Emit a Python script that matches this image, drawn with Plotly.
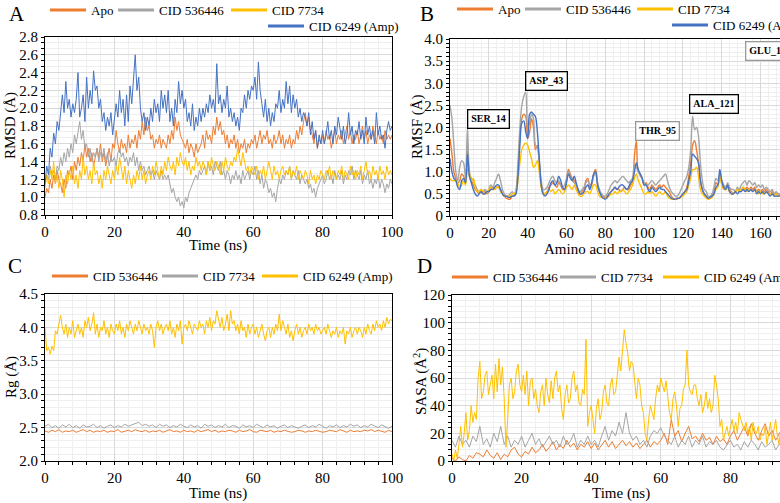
import plotly.graph_objects as go

FONT = "Times New Roman, Liberation Serif, serif"
ORANGE = "#ED7D31"
GRAY = "#A5A5A5"
YELLOW = "#FFC000"
BLUE = "#4472C4"
W, H = 780, 503

# ---------------- Panel A: RMSD (Å), sampled every 0.5 ns ----------------
rmsd_amp = [
    1.15, 1.35, 1.25, 1.55, 1.45, 1.72, 1.6, 1.85, 1.75, 1.95,
    2.15, 1.95, 2.3, 2.0, 2.1, 1.9, 2.05, 1.95, 2.1, 2.4,
    1.9, 2.0, 2.15, 1.85, 2.35, 2.0, 2.2, 2.05, 2.42, 2.2,
    2.25, 2.0, 2.1, 1.85, 1.95, 1.75, 1.9, 1.8, 1.95, 1.7,
    1.85, 2.05, 1.9, 2.2, 1.95, 2.1, 1.8, 2.15, 1.85, 2.25,
    2.05, 2.3, 2.6, 2.2, 2.35, 2.0, 1.85, 1.95, 1.75, 1.9,
    1.8, 2.0, 1.85, 2.1, 1.95, 2.05, 1.85, 2.2, 2.0, 2.15,
    1.95, 2.2, 1.85, 2.0, 1.8, 2.1, 1.95, 2.3, 2.05, 2.2,
    2.0, 2.1, 1.85, 1.95, 1.8, 2.05, 1.75, 1.9, 1.8, 2.0,
    1.85, 2.0, 1.9, 2.05, 1.95, 2.15, 2.0, 2.1, 1.95, 2.5,
    2.05, 2.15, 1.95, 2.1, 2.0, 2.25, 1.9, 2.0, 1.85, 1.95,
    1.8, 1.9, 1.75, 2.0, 1.95, 2.15, 2.0, 2.2, 2.1, 2.25,
    2.2, 2.35, 2.1, 2.52, 2.2, 2.05, 1.9, 2.1, 1.85, 2.0,
    1.8, 1.95, 1.85, 2.05, 2.0, 2.2, 1.95, 2.1, 2.0, 2.3,
    2.05, 2.25, 1.95, 2.15, 2.0, 2.1, 1.9, 2.0, 1.85, 1.95,
    1.9, 1.8, 1.95, 1.7, 1.85, 1.65, 1.75, 1.55, 1.7, 1.6,
    1.75, 1.6, 1.7, 1.85, 1.65, 1.75, 1.6, 1.8, 1.7, 1.9,
    1.75, 1.65, 1.8, 1.6, 1.7, 1.95, 1.7, 1.8, 1.6, 1.75,
    1.7, 1.85, 1.65, 1.75, 1.6, 1.9, 1.7, 1.8, 1.65, 1.75,
    1.6, 1.95, 1.7, 1.8, 1.65, 1.7, 1.55, 1.75, 1.85, 1.75,
    1.8,
]
rmsd_apo = [
    1.0, 1.1, 1.05, 1.2, 1.1, 1.25, 1.15, 1.3, 1.2, 1.15,
    1.05, 1.2, 1.1, 1.3, 1.25, 1.35, 1.2, 1.4, 1.3, 1.45,
    1.35, 1.5, 1.4, 1.6, 1.45, 1.55, 1.4, 1.5, 1.35, 1.45,
    1.55, 1.45, 1.6, 1.4, 1.5, 1.35, 1.45, 1.55, 1.4, 1.6,
    1.55, 1.75, 1.6, 1.5, 1.65, 1.55, 1.6, 1.5, 1.7, 1.55,
    1.65, 1.6, 1.7, 1.55, 1.75, 1.65, 1.85, 1.7, 1.9, 1.75,
    1.8, 1.65, 1.7, 1.55, 1.65, 1.6, 1.7, 1.55, 1.65, 1.6,
    1.55, 1.7, 1.6, 1.75, 1.65, 1.9, 1.75, 1.85, 1.7, 1.65,
    1.6, 1.55, 1.65, 1.5, 1.6, 1.55, 1.45, 1.6, 1.5, 1.55,
    1.6, 1.7, 1.55, 1.75, 1.65, 1.7, 1.6, 1.8, 1.7, 1.9,
    1.75, 1.85, 1.7, 1.75, 1.6, 1.7, 1.55, 1.65, 1.6, 1.7,
    1.55, 1.65, 1.5, 1.6, 1.55, 1.65, 1.5, 1.6, 1.55, 1.65,
    1.6, 1.7, 1.55, 1.65, 1.75, 1.6, 1.7, 1.65, 1.75, 1.6,
    1.65, 1.55, 1.7, 1.6, 1.65, 1.75, 1.6, 1.7, 1.55, 1.65,
    1.6, 1.7, 1.55, 1.65, 1.6, 1.75, 1.65, 1.8, 1.7, 1.85,
    1.95, 1.8, 1.9, 1.75, 1.7, 1.6, 1.75, 1.55, 1.65, 1.6,
    1.7, 1.6, 1.75, 1.65, 1.7, 1.55, 1.65, 1.75, 1.6, 1.7,
    1.65, 1.75, 1.6, 1.7, 1.8, 1.65, 1.75, 1.6, 1.7, 1.65,
    1.75, 1.6, 1.7, 1.8, 1.65, 1.75, 1.6, 1.7, 1.65, 1.8,
    1.7, 1.6, 1.75, 1.65, 1.7, 1.6, 1.75, 1.65, 1.7, 1.65,
    1.7,
]
rmsd_536446 = [
    1.15, 1.25, 1.2, 1.35, 1.25, 1.3, 1.2, 1.35, 1.3, 1.45,
    1.35, 1.5, 1.4, 1.55, 1.45, 1.6, 1.5, 1.7, 1.6, 1.75,
    1.85, 1.65, 1.75, 1.55, 1.6, 1.45, 1.55, 1.4, 1.5, 1.45,
    1.55, 1.4, 1.5, 1.45, 1.55, 1.4, 1.5, 1.35, 1.45, 1.4,
    1.45, 1.35, 1.5, 1.55, 1.45, 1.5, 1.4, 1.45, 1.35, 1.45,
    1.4, 1.5, 1.35, 1.45, 1.3, 1.4, 1.3, 1.35, 1.25, 1.3,
    1.35, 1.25, 1.3, 1.2, 1.3, 1.25, 1.2, 1.3, 1.2, 1.25,
    1.2, 1.25, 1.15, 1.05, 1.1, 1.0, 0.95, 1.0, 0.9, 0.95,
    0.88, 1.0, 0.95, 1.05, 1.1, 1.15, 1.2, 1.25, 1.2, 1.3,
    1.25, 1.3, 1.35, 1.25, 1.4, 1.3, 1.35, 1.25, 1.4, 1.35,
    1.3, 1.4, 1.25, 1.3, 1.2, 1.3, 1.25, 1.15, 1.25, 1.2,
    1.3, 1.2, 1.25, 1.15, 1.3, 1.2, 1.25, 1.3, 1.2, 1.3,
    1.25, 1.35, 1.2, 1.3, 1.15, 1.25, 1.1, 1.2, 1.15, 1.05,
    1.1, 1.0, 1.05, 0.95, 1.1, 1.2, 1.15, 1.25, 1.2, 1.3,
    1.25, 1.35, 1.2, 1.3, 1.25, 1.2, 1.3, 1.15, 1.25, 1.2,
    1.15, 1.2, 1.1, 1.15, 1.05, 1.1, 1.0, 1.1, 1.15, 1.2,
    1.25, 1.15, 1.2, 1.3, 1.2, 1.25, 1.15, 1.3, 1.2, 1.25,
    1.2, 1.3, 1.15, 1.25, 1.2, 1.3, 1.25, 1.35, 1.2, 1.3,
    1.25, 1.2, 1.3, 1.15, 1.25, 1.2, 1.3, 1.15, 1.2, 1.1,
    1.2, 1.15, 1.25, 1.1, 1.2, 1.15, 1.05, 1.15, 1.1, 1.2,
    1.15,
]
rmsd_7734 = [
    1.1, 1.25, 1.15, 1.3, 1.2, 1.4, 1.15, 1.25, 1.1, 1.3,
    1.2, 1.0, 1.25, 1.15, 1.3, 1.2, 1.35, 1.15, 1.25, 1.1,
    1.3, 1.2, 1.45, 1.25, 1.35, 1.2, 1.3, 1.15, 1.4, 1.25,
    1.3, 1.15, 1.25, 1.1, 1.3, 1.2, 1.35, 1.25, 1.15, 1.3,
    1.2, 1.35, 1.25, 1.45, 1.3, 1.2, 1.35, 1.15, 1.3, 1.2,
    1.1, 1.25, 1.15, 1.3, 1.2, 1.35, 1.2, 1.3, 1.15, 1.25,
    1.3, 1.2, 1.35, 1.25, 1.4, 1.3, 1.2, 1.35, 1.25, 1.4,
    1.3, 1.45, 1.35, 1.3, 1.4, 1.25, 1.45, 1.35, 1.5, 1.4,
    1.35, 1.45, 1.3, 1.4, 1.25, 1.35, 1.3, 1.45, 1.35, 1.4,
    1.3, 1.4, 1.35, 1.25, 1.4, 1.3, 1.45, 1.35, 1.3, 1.4,
    1.35, 1.25, 1.4, 1.3, 1.45, 1.35, 1.3, 1.4, 1.35, 1.45,
    1.4, 1.55, 1.45, 1.35, 1.5, 1.4, 1.3, 1.35, 1.25, 1.35,
    1.3, 1.25, 1.35, 1.2, 1.3, 1.25, 1.35, 1.2, 1.3, 1.4,
    1.3, 1.2, 1.35, 1.25, 1.3, 1.2, 1.3, 1.35, 1.25, 1.3,
    1.25, 1.35, 1.2, 1.3, 1.25, 1.35, 1.2, 1.3, 1.25, 1.2,
    1.3, 1.25, 1.15, 1.3, 1.2, 1.25, 1.15, 1.25, 1.2, 1.3,
    1.25, 1.2, 1.3, 1.25, 1.35, 1.2, 1.3, 1.25, 1.2, 1.3,
    1.25, 1.35, 1.2, 1.3, 1.25, 1.2, 1.35, 1.25, 1.3, 1.2,
    1.3, 1.25, 1.35, 1.2, 1.3, 1.4, 1.25, 1.3, 1.2, 1.35,
    1.25, 1.3, 1.2, 1.35, 1.25, 1.3, 1.2, 1.35, 1.25, 1.3,
    1.25,
]

# ---------------- Panel B: RMSF (Å) per residue index ----------------
rmsf_apo = [
    1.75, 1.4, 1.0, 0.85, 0.75, 0.8, 0.95, 0.9, 0.8, 1.65,
    0.9, 0.8, 0.7, 0.6, 0.55, 0.5, 0.55, 0.5, 0.55, 0.5,
    0.55, 0.6, 0.65, 0.6, 0.65, 0.65, 0.6, 0.5, 0.45, 0.4,
    0.38, 0.38, 0.45, 0.45, 0.55, 1.0, 1.8, 2.2, 2.3, 2.25,
    1.75, 1.9, 2.2, 2.0, 1.5, 1.6, 1.2, 0.7, 0.5, 0.5,
    0.55, 0.65, 0.7, 0.75, 0.7, 0.65, 0.75, 0.7, 0.6, 0.6,
    0.8, 1.05, 0.95, 0.85, 0.8, 0.7, 0.55, 0.5, 0.55, 0.6,
    0.8, 0.85, 0.65, 0.7, 0.95, 1.05, 0.75, 0.55, 0.5, 0.45,
    0.4, 0.45, 0.5, 0.55, 0.6, 0.65, 0.6, 0.6, 0.55, 0.6,
    0.65, 0.6, 0.6, 0.7, 0.75, 1.35, 1.7, 1.0, 0.95, 0.85,
    0.7, 0.75, 0.65, 0.6, 0.7, 0.65, 0.6, 0.65, 0.7, 0.65,
    0.7, 0.65, 0.6, 0.55, 0.45, 0.4, 0.38, 0.38, 0.4, 0.45,
    0.5, 0.55, 0.65, 0.9, 1.2, 1.6, 1.7, 1.5, 1.2, 0.8,
    0.6, 0.5, 0.45, 0.4, 0.4, 0.45, 0.55, 0.75, 0.7, 0.95,
    0.75, 0.65, 0.6, 0.7, 0.6, 0.55, 0.5, 0.55, 0.6, 0.55,
    0.6, 0.65, 0.6, 0.65, 0.6, 0.65, 0.6, 0.65, 0.55, 0.6,
    0.55, 0.6, 0.55, 0.6, 0.55, 0.5, 0.55, 0.5, 0.5, 0.45, 0.5,
]
rmsf_536446 = [
    2.5, 2.2, 1.6, 1.0, 0.8, 1.1, 1.25, 1.2, 0.85, 2.0,
    1.0, 0.85, 0.8, 0.7, 0.6, 0.55, 0.6, 0.55, 0.6, 0.55,
    0.6, 0.7, 0.65, 0.75, 0.85, 0.95, 0.8, 0.6, 0.5, 0.45,
    0.45, 0.5, 0.55, 0.5, 0.6, 1.2, 2.0, 2.5, 2.7, 2.8,
    2.0, 2.1, 2.3, 2.2, 1.6, 1.55, 1.2, 0.8, 0.6, 0.6,
    0.65, 0.75, 0.85, 0.9, 0.8, 0.75, 0.8, 0.7, 0.65, 0.7,
    0.85, 1.0, 0.9, 0.8, 0.75, 0.7, 0.6, 0.55, 0.6, 0.65,
    0.75, 0.8, 0.7, 0.75, 0.9, 0.95, 0.75, 0.6, 0.5, 0.45,
    0.45, 0.5, 0.6, 0.7, 0.75, 0.8, 0.75, 0.8, 0.85, 0.9,
    0.85, 0.8, 0.75, 0.8, 0.85, 1.15, 1.1, 1.0, 0.9, 0.85,
    0.75, 0.7, 0.7, 0.75, 0.8, 0.75, 0.7, 0.75, 0.8, 0.85,
    0.9, 0.95, 0.8, 0.65, 0.55, 0.5, 0.45, 0.45, 0.5, 0.6,
    0.7, 0.8, 0.9, 1.1, 1.5, 2.25, 1.95, 2.0, 1.8, 1.2,
    0.8, 0.6, 0.55, 0.45, 0.45, 0.5, 0.65, 0.85, 0.8, 0.95,
    0.8, 0.7, 0.65, 0.75, 0.65, 0.6, 0.6, 0.55, 0.65, 0.6,
    0.7, 0.75, 0.8, 0.7, 0.8, 0.75, 0.7, 0.75, 0.65, 0.7,
    0.65, 0.7, 0.6, 0.65, 0.6, 0.55, 0.6, 0.5, 0.55, 0.5, 0.5,
]
rmsf_7734 = [
    0.85, 0.8, 0.8, 0.8, 0.75, 0.65, 0.7, 0.8, 0.7, 1.05,
    0.95, 0.8, 0.85, 0.65, 0.55, 0.55, 0.6, 0.55, 0.5, 0.55,
    0.6, 0.65, 0.6, 0.6, 0.65, 0.65, 0.55, 0.5, 0.45, 0.45,
    0.45, 0.45, 0.5, 0.5, 0.55, 0.8, 1.2, 1.5, 1.6, 1.65,
    1.6, 1.45, 1.3, 1.1, 1.15, 1.25, 1.0, 0.65, 0.55, 0.5,
    0.55, 0.6, 0.55, 0.6, 0.5, 0.55, 0.6, 0.55, 0.5, 0.55,
    0.65, 0.7, 0.65, 0.6, 0.7, 0.6, 0.5, 0.45, 0.45, 0.5,
    0.55, 0.55, 0.5, 0.6, 0.7, 0.7, 0.55, 0.45, 0.42, 0.4,
    0.4, 0.42, 0.45, 0.5, 0.5, 0.55, 0.5, 0.55, 0.55, 0.6,
    0.55, 0.5, 0.55, 0.6, 0.7, 0.85, 0.95, 0.8, 0.7, 0.6,
    0.5, 0.5, 0.55, 0.5, 0.55, 0.5, 0.45, 0.5, 0.55, 0.5,
    0.5, 0.55, 0.45, 0.4, 0.38, 0.38, 0.38, 0.4, 0.4, 0.42,
    0.45, 0.5, 0.55, 0.7, 0.85, 1.05, 1.05, 1.1, 0.9, 0.6,
    0.5, 0.45, 0.4, 0.38, 0.4, 0.42, 0.5, 0.6, 0.65, 0.9,
    0.7, 0.6, 0.6, 0.65, 0.55, 0.5, 0.5, 0.55, 0.6, 0.55,
    0.6, 0.65, 0.6, 0.55, 0.6, 0.6, 0.55, 0.6, 0.55, 0.5,
    0.55, 0.5, 0.5, 0.55, 0.5, 0.5, 0.5, 0.45, 0.5, 0.45, 0.45,
]
rmsf_amp = [
    1.3, 1.0, 0.85, 0.8, 0.65, 0.6, 0.8, 0.85, 0.75, 1.4,
    0.9, 0.75, 0.6, 0.5, 0.45, 0.5, 0.55, 0.5, 0.5, 0.55,
    0.55, 0.6, 0.6, 0.65, 0.7, 0.7, 0.6, 0.5, 0.45, 0.45,
    0.42, 0.42, 0.45, 0.45, 0.5, 0.9, 1.6, 2.1, 2.15, 1.9,
    1.75, 2.3, 2.35, 2.3, 2.25, 1.9, 1.3, 0.7, 0.5, 0.45,
    0.5, 0.6, 0.75, 0.8, 0.7, 0.75, 0.9, 0.8, 0.65, 0.6,
    0.75, 0.95, 0.85, 0.8, 0.9, 0.75, 0.6, 0.5, 0.5, 0.55,
    0.65, 0.7, 0.6, 0.75, 0.95, 1.0, 0.7, 0.55, 0.45, 0.4,
    0.38, 0.42, 0.5, 0.55, 0.6, 0.65, 0.6, 0.65, 0.7, 0.7,
    0.65, 0.6, 0.65, 0.75, 0.8, 1.0, 1.2, 1.05, 0.95, 0.85,
    0.7, 0.7, 0.6, 0.55, 0.65, 0.6, 0.55, 0.6, 0.65, 0.6,
    0.6, 0.55, 0.5, 0.45, 0.4, 0.38, 0.38, 0.4, 0.4, 0.45,
    0.5, 0.55, 0.6, 0.8, 1.0, 1.4, 1.35, 1.3, 1.2, 0.8,
    0.6, 0.5, 0.45, 0.4, 0.42, 0.45, 0.5, 0.65, 0.7, 1.05,
    0.8, 0.65, 0.6, 0.7, 0.55, 0.5, 0.5, 0.55, 0.5, 0.55,
    0.55, 0.6, 0.55, 0.6, 0.55, 0.6, 0.55, 0.6, 0.5, 0.55,
    0.5, 0.55, 0.5, 0.55, 0.5, 0.45, 0.5, 0.45, 0.45, 0.45, 0.45,
]
rmsf_labels = ["SER_14", "ASP_43", "THR_95", "ALA_121", "GLU_160"]
rmsf_label_x = [20, 49.8, 106.8, 136.2, 152.2]
rmsf_label_y = [2.19, 3.06, 1.91, 2.52, 3.73]

# ---------------- Panel C: Rg (Å) ----------------
rg_amp = [  # every 0.5 ns
    4.0, 3.65, 3.7, 3.6, 3.72, 3.65, 3.95, 3.9, 4.05, 4.18,
    4.0, 3.9, 4.05, 3.85, 4.0, 3.9, 4.1, 3.85, 3.95, 4.05,
    3.9, 4.0, 3.85, 4.1, 4.0, 4.15, 3.95, 4.05, 4.22, 3.9,
    4.05, 3.85, 4.0, 3.95, 4.1, 3.9, 4.0, 3.85, 4.05, 3.95,
    3.9, 4.05, 3.95, 4.1, 3.9, 4.0, 3.85, 4.05, 3.95, 4.1,
    4.0, 3.9, 4.05, 3.95, 4.1, 4.0, 3.9, 4.05, 3.95, 4.0,
    3.9, 4.05, 3.95, 3.7, 4.0, 4.1, 3.95, 4.05, 3.9, 4.0,
    4.05, 3.95, 4.1, 3.9, 4.0, 3.85, 4.05, 3.95, 4.1, 3.75,
    4.0, 4.05, 3.95, 4.1, 4.0, 3.9, 4.05, 4.0, 3.95, 4.1,
    4.0, 4.05, 3.9, 4.1, 4.0, 4.15, 3.95, 4.1, 4.05, 4.25,
    4.1, 4.0, 4.15, 3.95, 4.05, 4.2, 3.95, 4.25, 4.05, 4.1,
    3.95, 4.05, 3.9, 4.1, 3.95, 4.0, 3.85, 4.05, 3.9, 4.0,
    4.05, 3.9, 4.0, 3.85, 3.95, 4.05, 3.9, 3.8, 3.95, 4.0,
    3.85, 4.0, 3.9, 4.05, 3.95, 4.2, 3.95, 4.1, 4.0, 3.9,
    4.05, 3.85, 3.95, 3.8, 3.95, 4.05, 3.9, 4.0, 3.85, 3.95,
    4.0, 3.9, 4.05, 3.95, 4.0, 3.9, 4.05, 3.95, 4.0, 3.9,
    3.95, 4.0, 3.9, 4.05, 3.95, 3.85, 3.95, 3.9, 4.0, 3.85,
    3.95, 3.9, 4.0, 3.75, 3.95, 3.9, 4.0, 3.85, 3.95, 4.0,
    3.9, 4.0, 3.95, 3.85, 4.0, 3.9, 4.05, 3.95, 3.9, 4.05,
    3.95, 4.1, 4.0, 4.05, 3.95, 4.1, 4.0, 4.15, 4.05, 4.12,
    4.1,
]
rg_7734 = [  # every 1 ns
    2.52, 2.55, 2.5, 2.53, 2.49, 2.54, 2.51, 2.55, 2.5, 2.53,
    2.49, 2.54, 2.51, 2.52, 2.55, 2.5, 2.53, 2.49, 2.52, 2.54,
    2.5, 2.53, 2.51, 2.55, 2.52, 2.54, 2.56, 2.58, 2.53, 2.55,
    2.52, 2.54, 2.5, 2.55, 2.52, 2.54, 2.5, 2.53, 2.51, 2.55,
    2.52, 2.5, 2.54, 2.51, 2.53, 2.49, 2.55, 2.52, 2.54, 2.5,
    2.53, 2.51, 2.55, 2.5, 2.53, 2.52, 2.49, 2.54, 2.51, 2.53,
    2.5, 2.55, 2.52, 2.5, 2.54, 2.51, 2.53, 2.49, 2.52, 2.54,
    2.5, 2.53, 2.51, 2.49, 2.52, 2.54, 2.5, 2.53, 2.51, 2.55,
    2.52, 2.49, 2.53, 2.51, 2.54, 2.5, 2.53, 2.51, 2.55, 2.52,
    2.54, 2.5, 2.53, 2.51, 2.55, 2.52, 2.5, 2.54, 2.51, 2.49,
    2.52,
]
rg_536446 = [  # every 1 ns
    2.45, 2.43, 2.46, 2.44, 2.47, 2.43, 2.45, 2.44, 2.46, 2.43,
    2.45, 2.47, 2.44, 2.46, 2.43, 2.45, 2.44, 2.46, 2.43, 2.45,
    2.44, 2.47, 2.43, 2.45, 2.46, 2.44, 2.47, 2.45, 2.44, 2.46,
    2.43, 2.45, 2.44, 2.46, 2.43, 2.45, 2.47, 2.44, 2.45, 2.43,
    2.46, 2.44, 2.45, 2.43, 2.46, 2.44, 2.45, 2.47, 2.44, 2.46,
    2.43, 2.45, 2.44, 2.46, 2.45, 2.43, 2.46, 2.44, 2.45, 2.47,
    2.44, 2.43, 2.46, 2.45, 2.44, 2.46, 2.43, 2.45, 2.44, 2.46,
    2.45, 2.43, 2.44, 2.46, 2.45, 2.43, 2.45, 2.44, 2.46, 2.45,
    2.43, 2.44, 2.46, 2.45, 2.44, 2.47, 2.45, 2.43, 2.46, 2.44,
    2.45, 2.44, 2.46, 2.45, 2.47, 2.44, 2.46, 2.45, 2.43, 2.46,
    2.44,
]

# ---------------- Panel D: SASA (Å²) ----------------
sasa_amp = [  # every 0.5 ns
    5, 0, 8, 2, 12, 25, 10, 20, 35, 15,
    22, 40, 28, 35, 30, 60, 72, 45, 50, 62,
    65, 48, 55, 62, 45, 70, 50, 74, 55, 68,
    45, 10, 30, 55, 60, 45, 50, 65, 70, 55,
    50, 62, 48, 65, 40, 58, 60, 45, 52, 40,
    35, 50, 55, 40, 60, 48, 42, 58, 45, 60,
    65, 50, 55, 38, 30, 48, 55, 42, 45, 60,
    65, 50, 55, 42, 40, 52, 48, 88, 25, 35,
    40, 28, 20, 38, 45, 30, 35, 50, 55, 42,
    40, 55, 60, 48, 50, 62, 75, 65, 80, 95,
    85, 78, 65, 72, 70, 55, 45, 60, 55, 40,
    35, 20, 15, 30, 40, 35, 30, 45, 55, 50,
    60, 55, 50, 58, 45, 35, 30, 45, 50, 40,
    25, 38, 40, 52, 55, 80, 55, 50, 48, 55,
    55, 45, 40, 48, 35, 40, 50, 38, 45, 35,
    40, 62, 55, 45, 25, 30, 15, 20, 25, 18,
    25, 30, 22, 28, 20, 35, 30, 25, 22, 28,
    20, 25, 15, 28, 22, 20, 25, 15, 20, 18,
    25, 12, 20, 28, 15, 22, 30, 18, 12, 25,
    20, 15, 22, 18, 25, 12, 20, 15, 22, 18,
    20,
]
sasa_7734 = [  # every 1 ns
    15, 10, 18, 12, 15, 10, 18, 14, 25, 12,
    16, 10, 20, 14, 25, 12, 18, 10, 15, 12,
    18, 10, 15, 20, 12, 16, 10, 14, 18, 12,
    15, 10, 18, 12, 14, 20, 10, 15, 12, 18,
    12, 15, 10, 18, 25, 15, 22, 18, 28, 20,
    35, 20, 15, 18, 12, 15, 10, 18, 22, 20,
    24, 18, 15, 12, 18, 10, 15, 12, 18, 10,
    15, 12, 18, 10, 14, 12, 15, 10, 8, 12,
    15, 10, 12, 8, 14, 10, 15, 12, 8, 14,
    10, 12, 15, 8, 12, 10, 14, 9, 12, 8,
    12,
]
sasa_536446 = [  # every 1 ns
    2, 0, 3, 1, 0, 4, 2, 6, 5, 3,
    8, 4, 2, 6, 1, 5, 3, 8, 10, 5,
    3, 7, 5, 10, 6, 8, 12, 7, 10, 14,
    8, 12, 9, 15, 10, 13, 8, 12, 10, 14,
    9, 13, 8, 12, 15, 10, 14, 9, 12, 15,
    11, 14, 10, 13, 9, 12, 15, 10, 14, 12,
    15, 20, 12, 30, 18, 22, 14, 20, 25, 16,
    18, 14, 20, 15, 17, 12, 18, 14, 16, 12,
    18, 22, 15, 20, 25, 18, 27, 20, 15, 22,
    27, 18, 22, 15, 20, 24, 16, 20, 18, 22,
    18,
]

half_ns = lambda ys: [i * 0.5 for i in range(len(ys))]
one_ns = lambda ys: list(range(len(ys)))
res = lambda ys: list(range(len(ys)))

fig = go.Figure()


def line(x, y, color, xa, ya, width=1.0, shape="linear"):
    fig.add_trace(go.Scatter(x=x, y=y, mode="lines", xaxis=xa, yaxis=ya,
                             line=dict(color=color, width=width, shape=shape),
                             showlegend=False, hoverinfo="skip"))


# Panel A
line(half_ns(rmsd_apo), rmsd_apo, ORANGE, "x", "y")
line(half_ns(rmsd_536446), rmsd_536446, GRAY, "x", "y")
line(half_ns(rmsd_7734), rmsd_7734, YELLOW, "x", "y")
line(half_ns(rmsd_amp), rmsd_amp, BLUE, "x", "y")
# Panel B
line(res(rmsf_apo), rmsf_apo, ORANGE, "x2", "y2", 1.4, "spline")
line(res(rmsf_536446), rmsf_536446, GRAY, "x2", "y2", 1.4, "spline")
line(res(rmsf_7734), rmsf_7734, YELLOW, "x2", "y2", 1.4, "spline")
line(res(rmsf_amp), rmsf_amp, BLUE, "x2", "y2", 1.4, "spline")
# Panel C
line(one_ns(rg_536446), rg_536446, ORANGE, "x3", "y3")
line(one_ns(rg_7734), rg_7734, GRAY, "x3", "y3")
line(half_ns(rg_amp), rg_amp, YELLOW, "x3", "y3")
# Panel D
line(one_ns(sasa_536446), sasa_536446, ORANGE, "x4", "y4")
line(one_ns(sasa_7734), sasa_7734, GRAY, "x4", "y4")
line(half_ns(sasa_amp), sasa_amp, YELLOW, "x4", "y4")

pxx = lambda p: p / W
pxy = lambda p: 1 - p / H

# ---------------- legends (one legend per entry, placed like the original) -------------
legend_items = [
    # name, color, left px, centre y px
    ("Apo", ORANGE, 45, 10), ("CID 536446", GRAY, 113, 10), ("CID 7734", YELLOW, 226, 10),
    ("CID 6249 (Amp)", BLUE, 263, 26),
    ("Apo", ORANGE, 452, 9), ("CID 536446", GRAY, 520, 9), ("CID 7734", YELLOW, 632, 9),
    ("CID 6249 (Amp)", BLUE, 667, 25),
    ("CID 536446", ORANGE, 47, 276), ("CID 7734", GRAY, 157, 276), ("CID 6249 (Amp)", YELLOW, 257, 276),
    ("CID 536446", ORANGE, 447, 277), ("CID 7734", GRAY, 555, 277), ("CID 6249 (Amp)", YELLOW, 658, 277),
]
legend_layout = {}
for i, (name, color, lx, ly) in enumerate(legend_items):
    key = "legend" if i == 0 else f"legend{i + 1}"
    fig.add_trace(go.Scatter(x=[None], y=[None], mode="lines", name=name,
                             line=dict(color=color, width=3), legend=key,
                             xaxis="x", yaxis="y", hoverinfo="skip"))
    legend_layout[key] = dict(x=pxx(lx), y=pxy(ly), xanchor="left", yanchor="middle",
                              orientation="h", bgcolor="rgba(0,0,0,0)", borderwidth=0,
                              itemwidth=36,
                              font=dict(family=FONT, size=13, color="black"))


def axis(domain, rng, dtick, minor_dtick, **kw):
    d = dict(domain=domain, range=rng, dtick=dtick, tick0=0,
             showline=True, linecolor="black", linewidth=1, mirror=True,
             ticks="outside", ticklen=3, tickcolor="black", tickwidth=1,
             showgrid=True, gridcolor="#d9d9d9", gridwidth=1, zeroline=False,
             tickfont=dict(family=FONT, size=15, color="black"),
             minor=dict(dtick=minor_dtick, tick0=0, ticks="outside", ticklen=3,
                        tickcolor="black", showgrid=True, gridcolor="#efefef"),
             fixedrange=True, automargin=False)
    d.update(kw)
    return d


fig.update_layout(
    width=W, height=H, autosize=False,
    margin=dict(l=0, r=0, t=0, b=0, pad=0, autoexpand=False),
    paper_bgcolor="white", plot_bgcolor="white",
    font=dict(family=FONT, color="black"),
    xaxis=axis([pxx(45), pxx(392)], [0, 100], 20, 4, anchor="y"),
    yaxis=axis([pxy(215), pxy(37)], [0.8, 2.8], 0.2, 0.2 / 3, anchor="x", tickformat=".1f"),
    xaxis2=axis([pxx(450), 1.0], [0, 170], 20, 4, anchor="y2"),
    yaxis2=axis([pxy(216), pxy(39)], [0, 4], 0.5, 0.1, anchor="x2",
                tickvals=[0, 0.5, 1, 1.5, 2, 2.5, 3, 3.5, 4],
                ticktext=["0", "0.5", "1.0", "1.5", "2.0", "2.5", "3.0", "3.5", "4.0"]),
    xaxis3=axis([pxx(45), pxx(392)], [0, 100], 20, 4, anchor="y3"),
    yaxis3=axis([pxy(461), pxy(294)], [2.0, 4.5], 0.5, 0.1, anchor="x3", tickformat=".1f"),
    xaxis4=axis([pxx(452), 1.0], [0, 94.25], 20, 4, anchor="y4"),
    yaxis4=axis([pxy(461), pxy(295)], [0, 120], 20, 4, anchor="x4"),
    **legend_layout,
)

ann = []


def text(s, x, y, size=15, angle=0, **kw):
    a = dict(text=s, x=pxx(x), y=pxy(y), xref="paper", yref="paper", showarrow=False,
             textangle=angle, xanchor="center", yanchor="middle",
             font=dict(family=FONT, size=size, color="black"))
    a.update(kw)
    ann.append(a)


# axis titles
text("Time (ns)", 218, 245)
text("Amino acid residues", 605, 249)
text("Time (ns)", 218, 493)
text("Time (ns)", 621, 493)
text("RMSD (Å)", 11, 126, angle=-90)
text("RMSF (Å)", 417, 127, angle=-90)
text("Rg (Å)", 11, 377, angle=-90)
text("SASA (Å<sup>2</sup>)", 420, 382, angle=-90)
# panel letters
text("A", 17, 14, size=21)
text("B", 427, 14, size=21)
text("C", 15, 266, size=21)
text("D", 425, 266, size=21)

# residue label boxes in panel B
box_colors = ["black", "black", "#999999", "black", "#999999"]
for i, lab in enumerate(rmsf_labels):
    ann.append(dict(text=f"<b>{lab}</b>", x=rmsf_label_x[i], y=rmsf_label_y[i],
                    xref="x2", yref="y2", showarrow=False,
                    xanchor="left" if i == 4 else "center", yanchor="middle",
                    font=dict(family=FONT, size=10, color="black"),
                    bgcolor="white", bordercolor=box_colors[i], borderwidth=1.3, borderpad=3))

fig.update_layout(annotations=ann)
# the page's default 8 px body margin would shift the figure; remove it so the
# 780x503 figure fills the window exactly
fig.write_html("out.html", config={"displayModeBar": False},
               post_script="document.body.style.margin='0px';")
